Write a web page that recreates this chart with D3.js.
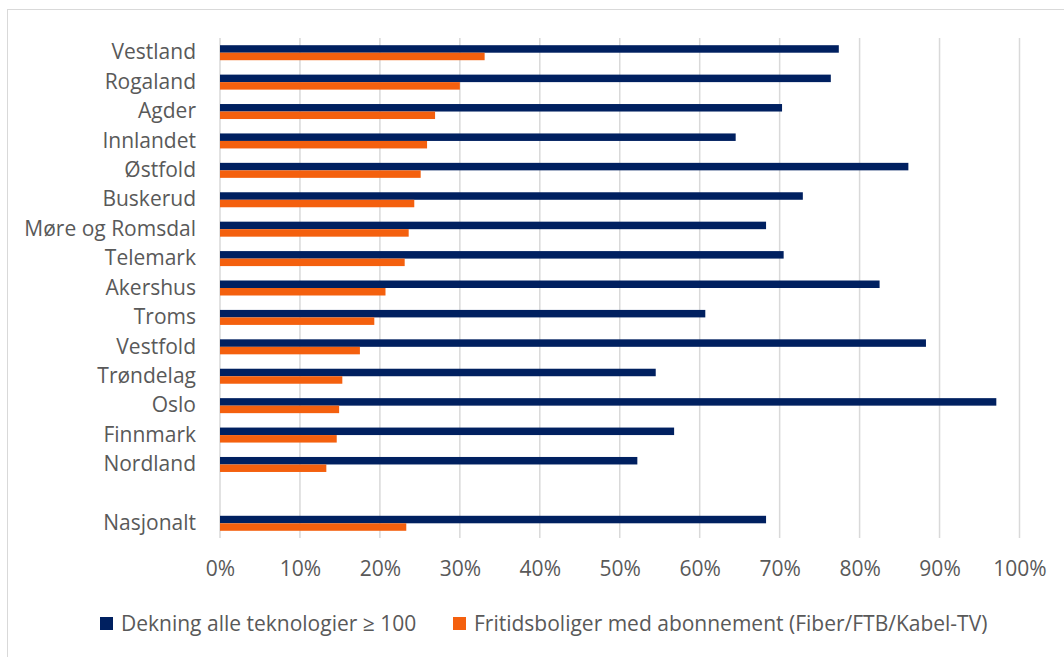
<!DOCTYPE html>
<html>
<head>
<meta charset="utf-8">
<script src="https://cdn.jsdelivr.net/npm/d3@7"></script>
<style>
  html, body { margin: 0; padding: 0; background: #fff; }
  svg { display: block; font-family: "Open Sans", sans-serif; }
</style>
</head>
<body>
<svg id="chart" width="1064" height="657"></svg>
<script>
const categories = ["Vestland", "Rogaland", "Agder", "Innlandet", "Østfold", "Buskerud",
  "Møre og Romsdal", "Telemark", "Akershus", "Troms", "Vestfold", "Trøndelag", "Oslo",
  "Finnmark", "Nordland", "", "Nasjonalt"];
const coverage = [77.4, 76.4, 70.3, 64.5, 86.1, 72.9, 68.3, 70.5, 82.5, 60.7, 88.3, 54.5, 97.1, 56.8, 52.2, null, 68.3];
const subscriptions = [33.1, 30.0, 26.9, 25.9, 25.1, 24.3, 23.6, 23.1, 20.7, 19.3, 17.5, 15.3, 14.9, 14.6, 13.3, null, 23.3];
const xTicks = [0, 10, 20, 30, 40, 50, 60, 70, 80, 90, 100];
const seriesNames = ["Dekning alle teknologier ≥ 100", "Fritidsboliger med abonnement (Fiber/FTB/Kabel-TV)"];
const colors = ["#002060", "#F4600E"];

(function () {
const svg = d3.select("#chart");
const mLeft = 220, mRight = 1019.5, mTop = 38, mBottom = 538;
const fs = 21;

svg.append("rect").attr("x", 7.5).attr("y", 9.5).attr("width", 1070).attr("height", 660)
  .attr("fill", "#fff").attr("stroke", "#d9d9d9").attr("stroke-width", 1);

const x = d3.scaleLinear().domain([0, 100]).range([mLeft, mRight]);
const y = d3.scaleBand().domain(categories.map((c, i) => i)).range([mTop, mBottom]).paddingInner(0.49).paddingOuter(0.245);
const sub = d3.scaleBand().domain([0, 1]).range([0, y.bandwidth()]);

// gridlines
svg.append("g").selectAll("line").data(xTicks).join("line")
  .attr("x1", d => x(d)).attr("x2", d => x(d))
  .attr("y1", mTop).attr("y2", mBottom)
  .attr("stroke", "#d9d9d9").attr("stroke-width", 1.5);

const barData = [];
categories.forEach((c, i) => [coverage[i], subscriptions[i]].forEach((v, s) => {
  if (v != null) barData.push({ i, s, v });
}));

svg.append("g").selectAll("rect").data(barData).join("rect")
  .attr("x", x(0))
  .attr("y", d => y(d.i) + sub(d.s))
  .attr("width", d => x(d.v) - x(0))
  .attr("height", sub.bandwidth())
  .attr("fill", d => colors[d.s]);

// x axis
const xAxis = svg.append("g").attr("transform", `translate(0,${mBottom})`)
  .call(d3.axisBottom(x).tickValues(xTicks).tickFormat(d => d + "%").tickSize(0).tickPadding(23));
xAxis.select(".domain").remove();
xAxis.selectAll("text").attr("font-size", fs).attr("fill", "#595959").attr("font-family", "Open Sans");

// y axis
const yAxis = svg.append("g").attr("transform", `translate(${mLeft},0)`)
  .call(d3.axisLeft(y).tickFormat(i => categories[i]).tickSize(0).tickPadding(24));
yAxis.select(".domain").remove();
yAxis.selectAll("text").attr("font-size", fs).attr("fill", "#595959").attr("font-family", "Open Sans");

// legend
const legendX = [100, 453];
const legend = svg.append("g");
seriesNames.forEach((name, s) => {
  legend.append("rect").attr("x", legendX[s]).attr("y", 617).attr("width", 13).attr("height", 13).attr("fill", colors[s]);
  legend.append("text").attr("x", legendX[s] + 21).attr("y", 623.5).attr("dy", "0.35em")
    .attr("font-size", fs).attr("fill", "#595959").text(name);
});
})();
</script>
</body>
</html>
